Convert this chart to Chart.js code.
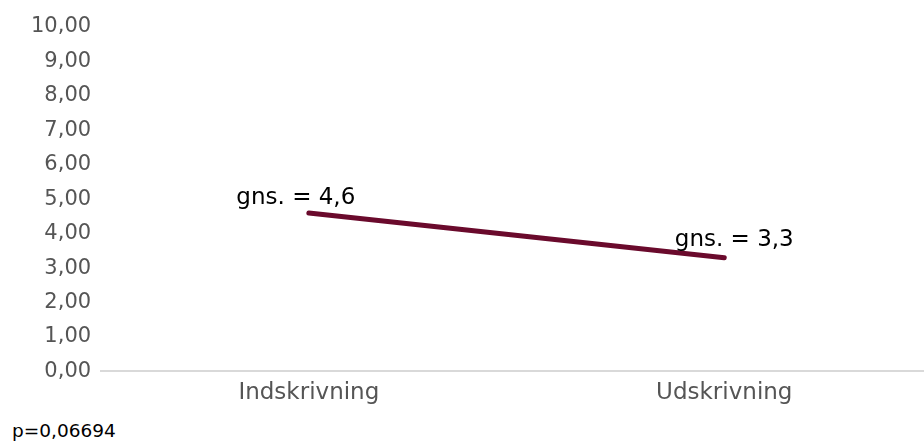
<!DOCTYPE html>
<html lang="da">
<head>
    <meta charset="UTF-8">
    <title>Gennemsnit</title>
    <style>
        body { margin: 0; background: #fff; overflow: hidden; }
        .wrap { position: relative; width: 932px; height: 407px; }
        .pval { position: absolute; left: 12px; top: 420px; font-family: "DejaVu Sans", Verdana, sans-serif; font-size: 18.5px; color: #000; }
    </style>
</head>
<body>
    <div class="wrap"><canvas id="chart"></canvas></div>
    <div class="pval" id="pval"></div>
    <script src="https://cdn.jsdelivr.net/npm/chart.js"></script>
    <script>
        // data
        const categories = ["Indskrivning", "Udskrivning"];
        const averages = [4.6, 3.3];
        const yTicks = [0, 1, 2, 3, 4, 5, 6, 7, 8, 9, 10];
        const pValue = "p=0,06694";

        const fmt = v => v.toFixed(2).replace(".", ",");

        // skriver "gns. = x" ved hvert punkt
        const avgLabels = {
            id: "avgLabels",
            afterDatasetsDraw(chart) {
                const ctx = chart.ctx;
                const meta = chart.getDatasetMeta(0);
                const offs = [[-13, -15], [10, -18]];
                ctx.save();
                ctx.font = "23px 'DejaVu Sans'";
                ctx.fillStyle = "#000";
                ctx.textAlign = "center";
                ctx.textBaseline = "middle";
                meta.data.forEach((pt, i) => {
                    const txt = "gns. = " + averages[i].toString().replace(".", ",");
                    ctx.fillText(txt, pt.x + offs[i][0], pt.y + offs[i][1]);
                });
                ctx.restore();
            }
        };

        document.getElementById("pval").textContent = pValue;

        new Chart(document.getElementById("chart"), {
            type: "line",
            data: {
                labels: categories,
                datasets: [{
                    data: averages,
                    borderColor: "#6a0a2c",
                    borderWidth: 5,
                    borderCapStyle: "round",
                    pointRadius: 0,
                    fill: false
                }]
            },
            options: {
                responsive: true,
                maintainAspectRatio: false,
                animation: false,
                layout: { padding: { top: 27, left: 29, right: 0, bottom: 0 } },
                plugins: { legend: { display: false }, tooltip: { enabled: false } },
                scales: {
                    x: {
                        offset: true,
                        grid: { display: false },
                        border: { display: true, color: "#d9d9d9", width: 2 },
                        ticks: { color: "#555", font: { family: "DejaVu Sans", size: 23 }, padding: 0 }
                    },
                    y: {
                        min: yTicks[0],
                        max: yTicks[yTicks.length - 1],
                        afterBuildTicks: s => { s.ticks = yTicks.map(v => ({ value: v })); },
                        grid: { display: false },
                        border: { display: false },
                        ticks: { color: "#555", font: { family: "DejaVu Sans", size: 21 }, padding: 2, callback: v => fmt(v) }
                    }
                }
            },
            plugins: [avgLabels]
        });
    </script>
</body>
</html>
